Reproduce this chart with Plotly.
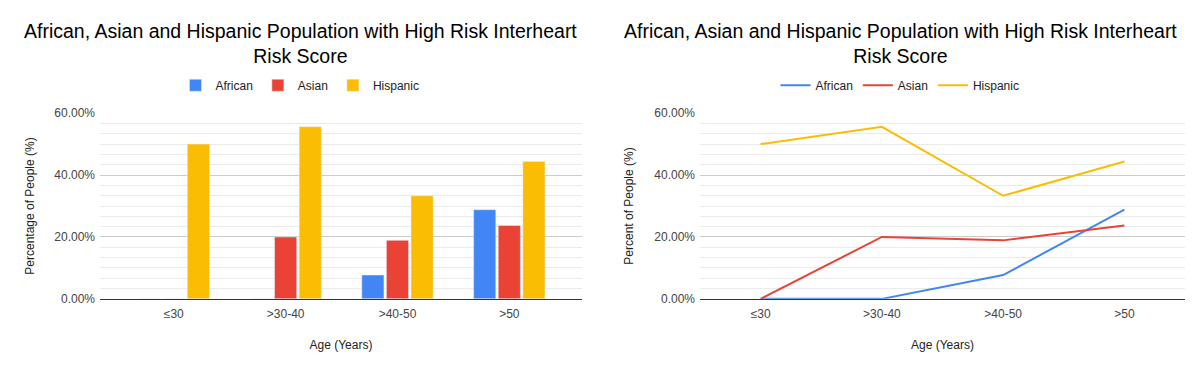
import plotly.graph_objects as go

categories = ["≤30", ">30-40", ">40-50", ">50"]
african = [0.0, 0.0, 0.077, 0.288]
asian = [0.0, 0.20, 0.189, 0.237]
hispanic = [0.50, 0.556, 0.333, 0.444]

series_names = ["African", "Asian", "Hispanic"]
colors = ["#4285F4", "#EA4335", "#FBBC04"]
title_text = "African, Asian and Hispanic Population with High Risk Interheart<br>Risk Score"

FONT = "Arial, Liberation Sans, sans-serif"
W, H = 1200, 371
OFF = 8  # page body margin

def px_x(v):
    return (v - OFF) / W

def px_y(v):
    return 1 - (v - OFF) / H

fig = go.Figure()
data = [african, asian, hispanic]
for name, vals, col in zip(series_names, data, colors):
    fig.add_trace(go.Bar(x=categories, y=vals, name=name, marker_color=col,
                         xaxis="x", yaxis="y", legend="legend"))
for name, vals, col in zip(series_names, data, colors):
    fig.add_trace(go.Scatter(x=categories, y=vals, name=name, mode="lines",
                             line=dict(color=col, width=2),
                             xaxis="x2", yaxis="y2", legend="legend2"))

yd = [px_y(303), px_y(110)]
common_y = dict(range=[0, 0.6], dtick=0.2, tickformat=".2%", showgrid=True,
                gridcolor="#cccccc", gridwidth=1, zeroline=False,
                tickfont=dict(size=12, color="#444444", family=FONT),
                minor=dict(dtick=0.2 / 6, showgrid=True, gridcolor="#ebebeb", gridwidth=1),
                ticks="", domain=yd, ticklabelstandoff=4)
common_x = dict(type="category", showgrid=False, showline=True,
                linecolor="#333333", linewidth=1, ticklabelstandoff=4,
                tickfont=dict(size=12, color="#444444", family=FONT),
                title=dict(text="Age (Years)", font=dict(size=12, color="#222222", family=FONT),
                           standoff=20))

fig.update_layout(
    width=W, height=H,
    margin=dict(l=0, r=0, t=0, b=0),
    paper_bgcolor="white", plot_bgcolor="white",
    font=dict(family=FONT, color="#222222"),
    barmode="group", bargap=0.34, bargroupgap=0.1,
    xaxis=dict(domain=[px_x(100), px_x(582)], anchor="y", range=[-0.66, 3.65], **common_x),
    yaxis=dict(anchor="x", title=dict(text="Percentage of People (%)",
                                     font=dict(size=12, color="#222222", family=FONT), standoff=17),
               **common_y),
    xaxis2=dict(domain=[px_x(700), px_x(1185)], anchor="y2", range=[-0.5, 3.5], **common_x),
    yaxis2=dict(anchor="x2", title=dict(text="Percent of People (%)",
                                       font=dict(size=12, color="#222222", family=FONT), standoff=18),
                **common_y),
    legend=dict(orientation="h", x=px_x(300), xanchor="center", y=px_y(81), yanchor="middle",
                font=dict(size=12, color="#222222", family=FONT), itemwidth=30),
    legend2=dict(orientation="h", x=px_x(900), xanchor="center", y=px_y(81), yanchor="middle",
                 font=dict(size=12, color="#222222", family=FONT), itemwidth=30),
    annotations=[
        dict(text=title_text, x=px_x(300), y=px_y(38), xref="paper", yref="paper",
             xanchor="center", yanchor="middle", showarrow=False,
             font=dict(size=19.5, color="#000000", family=FONT)),
        dict(text=title_text, x=px_x(900), y=px_y(38), xref="paper", yref="paper",
             xanchor="center", yanchor="middle", showarrow=False,
             font=dict(size=19.5, color="#000000", family=FONT)),
    ],
)

fig.write_html("out.html")
